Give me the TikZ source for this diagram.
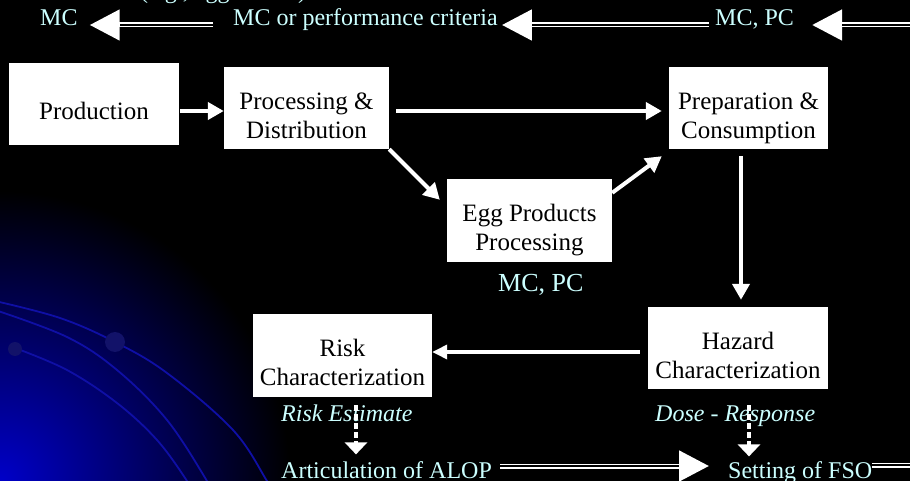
\documentclass[tikz,border=0pt]{standalone}
\usepackage{fontspec}
\setmainfont{Liberation Serif}
\usetikzlibrary{arrows.meta,calc}
\definecolor{lbl}{RGB}{204,255,255}
\definecolor{arccol}{RGB}{15,15,165}
\definecolor{dotcol}{RGB}{18,18,105}
\definecolor{glow}{RGB}{0,0,200}
\newcommand\bt[1]{\raisebox{-10pt}[\height][\depth]{\begin{tabular}{@{}c@{}}#1\end{tabular}}}
\newcommand\dblarrow[2]{\draw[bigarr] #1 -- #2; \draw[gapline, shorten >=30pt] #1 -- #2;}
\begin{document}
\begin{tikzpicture}[x=1pt,y=-1pt,
  stagebox/.style={fill=white, text=black, inner sep=0pt, font=\fontsize{25}{29}\selectfont},
  lbltext/.style={text=lbl, inner sep=0pt, font=\fontsize{24}{28}\selectfont, anchor=base west},
  lblit/.style={lbltext, font=\fontsize{24}{28}\selectfont\itshape},
  flow/.style={draw=white, line width=4pt, -{Triangle[length=16pt,width=17pt]}},
  flowthin/.style={draw=white, line width=3.5pt, -{Triangle[length=15pt,width=14pt]}},
  dotarr/.style={draw=white, line width=4.5pt, dash pattern=on 6pt off 3pt, -{Triangle[length=12pt,width=22pt]}},
  bigarr/.style={draw=white, line width=5pt, -{Triangle[length=30pt,width=30pt]}},
  gapline/.style={draw=black, line width=1.6pt},
  dblline/.style={draw=white, double=black, double distance=1.6pt, line width=1.7pt},
  arcline/.style={draw=arccol, line width=1.8pt}
]
\useasboundingbox (0,0) rectangle (910,481);
\begin{scope}
\clip (0,0) rectangle (910,481);
\fill[black] (0,0) rectangle (910,481);
\shade[inner color=glow, outer color=black] (0,481) circle (290pt);
\draw[arcline] plot[smooth, tension=0.6] coordinates {(-5,301) (60,318) (115,342) (167,373) (233,430) (267,481) (275,495)};
\draw[arcline] plot[smooth, tension=0.6] coordinates {(-5,310) (67,337) (117,370) (167,420) (207,481) (213,495)};
\draw[arcline] plot[smooth, tension=0.6] coordinates {(15,348) (67,370) (117,403) (157,440) (187,481) (193,495)};
\fill[dotcol] (115,342) circle (10pt);
\fill[dotcol] (15,349) circle (7pt);

% boxes
\node[stagebox, minimum width=170pt, minimum height=82pt] (prod) at (94,104) {\bt{Production}};
\node[stagebox, minimum width=165pt, minimum height=82pt] (proc) at (306.5,108) {\bt{Processing \&\\Distribution}};
\node[stagebox, minimum width=159pt, minimum height=82pt] (prep) at (748.5,108) {\bt{Preparation \&\\Consumption}};
\node[stagebox, minimum width=165pt, minimum height=83pt] (egg) at (529.5,220.5) {\bt{Egg Products\\Processing}};
\node[stagebox, minimum width=179pt, minimum height=83pt] (risk) at (342.5,355.5) {\bt{Risk\\Characterization}};
\node[stagebox, minimum width=180pt, minimum height=82pt] (haz) at (738,348) {\bt{Hazard\\Characterization}};

% labels
\node[lbltext] (partial) at (140,-1) {(e.g., egg whites)};
\node[lbltext] (mc) at (40,26) {MC};
\node[lbltext] (mcperf) at (233,26) {MC or performance criteria};
\node[lbltext] (mcpc) at (715,26) {MC, PC};
\node[lbltext, font=\fontsize{26}{30}\selectfont] (eggmc) at (498,291) {MC, PC};
\node[lblit] (riskest) at (281,421) {Risk Estimate};
\node[lblit] (dose) at (655,421) {Dose - Response};
\node[lbltext] (alop) at (281,478) {Articulation of ALOP};
\node[lbltext] (fso) at (728,478) {Setting of FSO};

\coordinate (toprow) at (0,25);
\coordinate (botrow) at (0,466);
\coordinate (topright) at (915,25);
\coordinate (botright) at (915,465);

% flow arrows
\draw[flow] ($(prod.east)+(1,7)$) -- ($(proc.west)+(0,3)$);
\draw[flow] ($(proc.east)+(7,3)$) -- ($(prep.west)+(-7,3)$);
\draw[flow] (proc.south east) -- ($(egg.north west)+(-7,21)$);
\draw[flow] ($(egg.north east)+(0,14)$) -- ($(prep.south west)+(-7,7)$);
\draw[flow] ($(prep.south)+(-7.5,7)$) -- ($(haz.north)+(3,-7)$);
\draw[flowthin] ($(haz.west)+(-8,4)$) -- ($(risk.east |- haz.west)+(0,4)$);

% dotted arrows
\draw[dotarr] ($(risk.south)+(13.5,8)$) -- ($(alop.north -| risk.south)+(13.5,-6.5)$);
\draw[dotarr] ($(haz.south)+(11,16)$) -- ($(fso.north -| haz.south)+(11,-4.5)$);

% double arrows
\dblarrow{($(mcperf.west |- toprow)+(-20,0)$)}{($(mc.east |- toprow)+(12,0)$)}
\dblarrow{($(mcpc.west |- toprow)+(-6,0)$)}{($(mcperf.east |- toprow)+(4,0)$)}
\dblarrow{(topright)}{($(mcpc.east |- toprow)+(18,0)$)}
\dblarrow{($(alop.east |- botrow)+(8,0)$)}{($(fso.west |- botrow)+(-19,0)$)}
\draw[dblline] (fso.east |- botright) -- (botright);
\end{scope}
\end{tikzpicture}
\end{document}
